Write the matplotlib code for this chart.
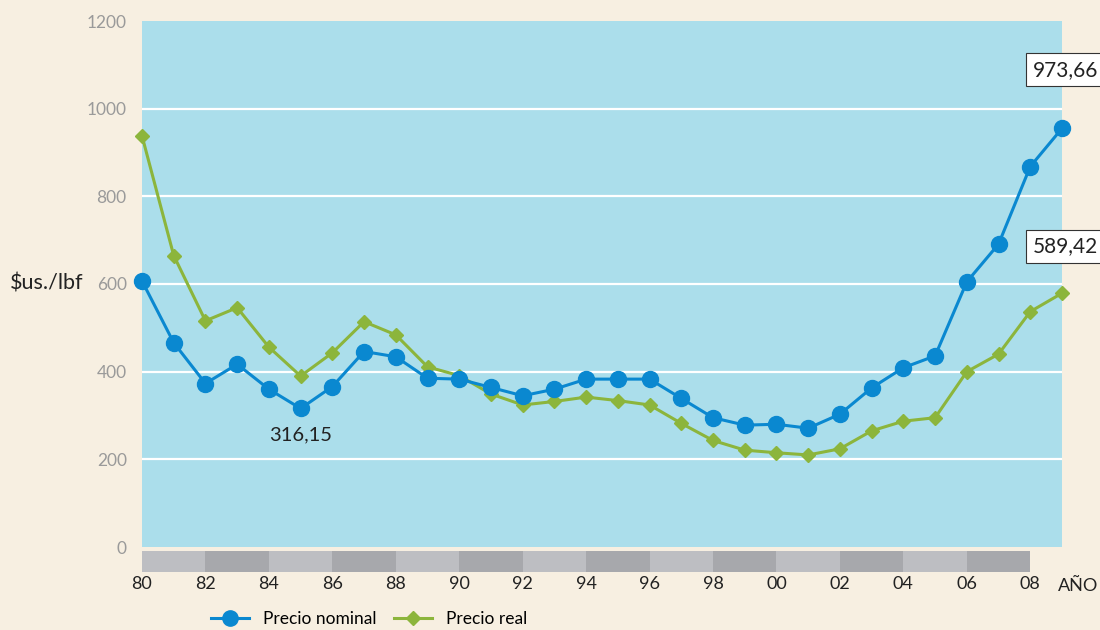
import matplotlib
matplotlib.use("Agg")
import matplotlib.pyplot as plt
from matplotlib.lines import Line2D

plt.rcParams['font.family'] = ['Lato', 'DejaVu Sans']

years = list(range(1980, 2010))
nominal = [607, 466, 373, 417, 360, 316, 366, 446, 434, 385, 383, 364, 345, 360,
           383, 383, 383, 339, 295, 278, 280, 271, 303, 363, 409, 436, 605, 691, 868, 955]
real = [938, 665, 516, 546, 456, 390, 443, 514, 484, 411, 391, 349, 324, 332,
        342, 334, 324, 282, 243, 221, 215, 210, 224, 265, 287, 295, 400, 440, 537, 579]
tick_years = list(range(1980, 2010, 2))
tick_labels = ["80", "82", "84", "86", "88", "90", "92", "94", "96", "98",
               "00", "02", "04", "06", "08"]
yticks = [0, 200, 400, 600, 800, 1000, 1200]
ann_min = "316,15"
ann_nom = "973,66"
ann_real = "589,42"

BG = "#f7efe1"
AX = "#abdeeb"
BLUE = "#0a88d0"
GREEN = "#8cb53c"

fig = plt.figure(figsize=(11, 6.3), dpi=100, facecolor=BG)
ax = fig.add_axes([142/1100, 83/630, 920/1100, 526/630], facecolor=AX)
ax.set_xlim(1980, 2009)
ax.set_ylim(0, 1200)
for s in ax.spines.values():
    s.set_visible(False)
ax.set_yticks(yticks)
ax.set_yticklabels([str(v) for v in yticks], color="#9a9a9a", fontsize=12.5)
ax.tick_params(axis='y', length=0, pad=11)
ax.set_xticks([])
for v in yticks[1:-1]:
    ax.axhline(v, color="white", lw=1.6, zorder=1)

ax.plot(years, real, color=GREEN, lw=2.2, marker="D", ms=7.5, zorder=3, clip_on=False)
ax.plot(years, nominal, color=BLUE, lw=2.2, marker="o", ms=11.5, zorder=4, clip_on=False)

ax.text(1985, 255, ann_min, ha="center", va="center", fontsize=14.5, color="#222222")
box = dict(boxstyle="square,pad=0.3", fc="white", ec="#333333", lw=0.8)
ax.text(2009.1, 1089, ann_nom, ha="center", va="center", fontsize=15, color="#222222",
        bbox=box, clip_on=False, zorder=6)
ax.text(2009.1, 686, ann_real, ha="center", va="center", fontsize=15, color="#222222",
        bbox=box, clip_on=False, zorder=6)

fig.text(10/1100, 1 - 284/630, "$us./lbf", ha="left", va="center", fontsize=15.5, color="#222222")

# band below axis
bx = fig.add_axes([142/1100, 58/630, 920/1100, 21/630])
bx.set_xlim(1980, 2009)
bx.set_ylim(0, 1)
bx.axis("off")
band_starts = tick_years[:-1]
for i, st in enumerate(band_starts):
    bx.bar(st, 1, width=2, align="edge", color="#bdbec2" if i % 2 == 0 else "#a7a8ac", lw=0)

for ty, tl in zip(tick_years, tick_labels):
    bx.text(ty, -0.55, tl, ha="center", va="center", fontsize=13, color="#222222")
fig.text(1078/1100, 1 - 586/630, "AÑO", ha="center", va="center", fontsize=13, color="#222222")

handles = [Line2D([], [], color=BLUE, lw=2.2, marker="o", ms=11),
           Line2D([], [], color=GREEN, lw=2.2, marker="D", ms=7.5)]
fig.legend(handles, ["Precio nominal", "Precio real"], loc="center",
           bbox_to_anchor=(369/1100, 1 - 619/630), ncol=2, frameon=False,
           fontsize=12.5, handlelength=2.2, columnspacing=1.0, handletextpad=0.8)

fig.savefig("out.png", dpi=100, facecolor=BG)
